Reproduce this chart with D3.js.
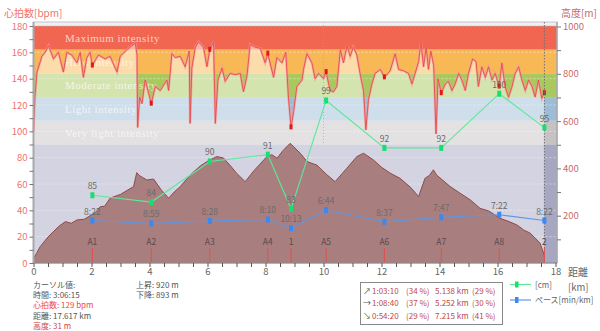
<!DOCTYPE html>
<html><head><meta charset="utf-8">
<script src="https://cdn.jsdelivr.net/npm/d3@7"></script>
<style>
body{margin:0;background:#fff;}
svg{display:block;}
text{font-family:"Noto Sans CJK JP","DejaVu Sans",sans-serif;}
</style></head><body>
<svg id="c" width="600" height="331"></svg>
<script>
// ---------- data ----------
const hrKm  = [0.00,0.05,0.12,0.29,0.40,0.52,0.69,0.86,1.03,1.15,1.32,1.50,1.61,1.72,1.84,1.95,2.03,2.13,2.24,2.47,2.64,2.88,2.99,3.22,3.39,3.51,3.57,3.59,3.66,3.74,3.85,3.97,4.06,4.20,4.37,4.60,4.66,4.77,4.89,5.06,5.23,5.37,5.40,5.46,5.58,5.69,5.86,5.98,6.08,6.21,6.27,6.36,6.50,6.61,6.78,6.96,7.13,7.24,7.36,7.47,7.64,7.82,7.99,8.08,8.28,8.39,8.57,8.70,8.79,8.88,8.97,9.08,9.26,9.31,9.43,9.60,9.71,9.83,10.00,10.09,10.23,10.34,10.46,10.58,10.69,10.81,10.92,11.03,11.15,11.26,11.38,11.46,11.55,11.67,11.78,11.96,12.10,12.30,12.47,12.59,12.76,12.93,13.05,13.16,13.28,13.36,13.45,13.54,13.62,13.70,13.80,13.88,13.95,14.06,14.20,14.31,14.43,14.54,14.66,14.77,14.89,15.00,15.14,15.26,15.34,15.46,15.58,15.69,15.81,15.92,16.06,16.15,16.26,16.38,16.50,16.61,16.73,16.84,16.96,17.07,17.19,17.30,17.41,17.53,17.60,17.617];
const hrBpm = [100,126,145,157,160,165,155,160,145,160,158,152,160,141,156,160,150,154,158,155,157,145,157,162,165,167,158,103,126,121,139,129,121,134,131,139,131,159,156,157,149,161,106,148,164,168,164,149,162,168,106,139,148,138,144,143,144,130,142,166,164,163,152,159,141,156,152,160,126,103,115,134,139,147,159,152,140,144,140,145,131,130,134,162,152,165,157,164,158,144,131,101,124,136,144,147,141,146,159,147,146,144,136,144,153,168,149,164,147,161,150,98,140,129,136,138,131,136,144,139,131,144,155,153,134,149,141,149,139,144,134,152,134,126,134,144,149,139,131,139,134,126,139,125,129,129];

const altKm = [0,0.1,0.23,0.5,0.86,1.1,1.3,1.5,1.75,2.0,2.15,2.3,2.45,2.65,3.0,3.2,3.45,3.56,3.65,3.91,4.14,4.4,4.66,4.85,5.06,5.4,5.75,6.0,6.32,6.55,6.8,7.0,7.3,7.6,8.05,8.22,8.4,8.6,8.85,9.2,9.43,9.77,10.1,10.4,10.8,11.15,11.38,11.72,12.0,12.3,12.64,13.0,13.28,13.5,13.65,13.79,13.9,14.37,14.71,15.06,15.4,15.7,16.09,16.4,16.67,16.9,17.13,17.3,17.47,17.617];
const altM  = [16,40,69,110,154,175,168,182,185,203,215,238,240,275,290,305,323,382,370,351,355,310,274,300,323,372,410,430,450,444,410,380,344,390,450,458,443,475,506,464,429,414,375,344,400,450,464,436,405,380,358,320,281,358,370,394,372,323,295,267,231,220,189,175,161,140,126,105,83,31];

const lapKm     = [2.03,4.06,6.08,8.08,8.88,10.09,12.10,14.06,16.06,17.617];
const lapNames  = ["A1","A2","A3","A4","1","A5","A6","A7","A8","2"];
const cadence   = [85,84,90,91,83,99,92,92,100,95];
const paceText  = ["8:22","8:59","8:28","8:10","10:13","6:44","8:37","7:47","7:22","8:22"];

const zoneLow   = [162,144,126,108,90];
const zoneNames = ["Maximum intensity","Hard intensity","Moderate intensity","Light intensity","Very light intensity"];

const xTicks    = [0,2,4,6,8,10,12,14,16,18];
const hrTicks   = [0,20,40,60,80,100,120,140,160,180];
const altTicks  = [200,400,600,800,1000];

const cursorKm = 17.617;
const infoLeft  = ["カーソル値:","時間: 3:06:15","心拍数: 129 bpm","距離: 17.617 km","高度: 31 m"];
const infoRight = ["上昇: 920 m","下降: 893 m"];
const splitArrow = ["↗","→","↘"];
const splitTime  = ["1:03:10","1:08:40","0:54:20"];
const splitTPct  = ["(34 %)","(37 %)","(29 %)"];
const splitDist  = ["5.138 km","5.252 km","7.215 km"];
const splitDPct  = ["(29 %)","(30 %)","(41 %)"];

// ---------- scales ----------
const L = 33.5, R = 557, T = 22, B = 263;
const x = d3.scaleLinear().domain([0,18]).range([L, 555.5]);
const yHR = d3.scaleLinear().domain([0,180]).range([B, 26]);
const yAlt = d3.scaleLinear().domain([0,1000]).range([B, 26.5]);
const yCad = d3.scaleLinear().domain([75,110]).range([B, 26]);
const ySpd = d3.scaleLinear().domain([0,40]).range([B, 26]);
const paceSec = s => { const p = s.split(":"); return (+p[0])*60 + (+p[1]); };
const speed = paceText.map(s => 3600/paceSec(s));
const hrAt = k => { const i = d3.bisectLeft(hrKm, k); if (i<=0) return hrBpm[0]; if (i>=hrKm.length) return hrBpm[hrBpm.length-1];
  const t = (k-hrKm[i-1])/(hrKm[i]-hrKm[i-1]); return hrBpm[i-1] + t*(hrBpm[i]-hrBpm[i-1]); };

const svg = d3.select("#c");

// background of plot
svg.append("rect").attr("x",L).attr("y",T).attr("width",R-L).attr("height",B-T).attr("fill","#eef0f5").attr("stroke","#c4c4c8");
// zones (saturated)
const zoneCol = ["#f06651","#f8b855","#a9c95c","#9ebcd6","#c6c2c4","#a7a7c2"];
const bounds = [180,162,144,126,108,90,0];
for (let i=0;i<6;i++){
  svg.append("rect").attr("x",L).attr("y",yHR(bounds[i])).attr("width",R-L)
     .attr("height",yHR(bounds[i+1])-yHR(bounds[i])).attr("fill",zoneCol[i]);
}
// HR area light overlay
const hrData = hrKm.map((k,i)=>[k,hrBpm[i]]);
svg.append("path").datum(hrData)
  .attr("d", d3.area().x(d=>x(d[0])).y0(yHR(0)).y1(d=>yHR(d[1])))
  .attr("fill","#fff").attr("opacity",0.5);

// grid
svg.append("g").selectAll("line").data(hrTicks.filter(d=>d>0 && d<180)).join("line")
  .attr("x1",L).attr("x2",R).attr("y1",d=>yHR(d)).attr("y2",d=>yHR(d))
  .attr("stroke","#ffffff").attr("stroke-opacity",0.45).attr("stroke-dasharray","2,2");
svg.append("line").attr("x1",L).attr("x2",R).attr("y1",yHR(180)).attr("y2",yHR(180))
  .attr("stroke","#bbbbc4").attr("stroke-dasharray","2,2");
svg.append("line").attr("x1",x(10)).attr("x2",x(10)).attr("y1",T).attr("y2",yHR(90))
  .attr("stroke","#a0a0a8").attr("stroke-opacity",0.6).attr("stroke-dasharray","1,2");

// zone labels
svg.append("g").selectAll("text").data(zoneNames).join("text")
  .attr("x",65).attr("y",(d,i)=>yHR(zoneLow[i]+9)+4)
  .attr("fill","#ffffff").attr("fill-opacity",0.7)
  .style("font-family","'Liberation Serif','DejaVu Serif',serif").style("font-size","11px").style("letter-spacing","0.5px")
  .text(d=>d);

// HR line
const hrLine = d3.line().x(d=>x(d[0])).y(d=>yHR(d[1]));
svg.append("path").datum(hrData).attr("d",hrLine).attr("fill","none").attr("stroke","#f29a9a").attr("stroke-width",2.4).attr("stroke-opacity",0.7);
svg.append("path").datum(hrData).attr("d",hrLine).attr("fill","none").attr("stroke","#e64c4c").attr("stroke-width",0.9);
// lap markers on HR
svg.append("g").selectAll("rect").data(lapKm).join("rect")
  .attr("x",d=>x(d)-1.5).attr("y",d=>yHR(hrAt(d))-3).attr("width",3).attr("height",5).attr("fill","#e01818");

// altitude
const altData = altKm.map((k,i)=>[k,altM[i]]);
svg.append("path").datum(altData)
  .attr("d", d3.area().x(d=>x(d[0])).y0(yAlt(0)).y1(d=>yAlt(d[1])))
  .attr("fill","#a97e7f");
svg.append("path").datum(altData)
  .attr("d", d3.line().x(d=>x(d[0])).y(d=>yAlt(d[1])))
  .attr("fill","none").attr("stroke","#8e4a4c").attr("stroke-width",1);

// cursor line
svg.append("line").attr("x1",x(cursorKm)).attr("x2",x(cursorKm)).attr("y1",T).attr("y2",B)
  .attr("stroke","#707078").attr("stroke-dasharray","1.5,1.5");

// lap lines & labels
svg.append("g").selectAll("line").data(lapKm).join("line")
  .attr("x1",d=>x(d)).attr("x2",d=>x(d)).attr("y1",248).attr("y2",B).attr("stroke","#e05050");
svg.append("g").selectAll("text").data(lapNames).join("text")
  .attr("x",(d,i)=>x(lapKm[i])).attr("y",245).attr("text-anchor","middle")
  .attr("fill","#5a4a4a").style("font-size","8.5px").text(d=>d);

// cadence series
const cadPts = lapKm.map((k,i)=>[k,cadence[i]]);
svg.append("path").datum(cadPts).attr("d",d3.line().x(d=>x(d[0])).y(d=>yCad(d[1])))
  .attr("fill","none").attr("stroke","#5ee89a").attr("stroke-width",1.1);
svg.append("g").selectAll("rect").data(cadPts).join("rect")
  .attr("x",d=>x(d[0])-2).attr("y",d=>yCad(d[1])-3).attr("width",4).attr("height",6).attr("fill","#14e070");
svg.append("g").selectAll("text").data(cadPts).join("text")
  .attr("x",d=>x(d[0])).attr("y",d=>yCad(d[1])-6).attr("text-anchor","middle")
  .attr("fill","#6a6a6a").style("font-size","8.5px").text(d=>d[1]);

// pace series
const spdPts = lapKm.map((k,i)=>[k,speed[i]]);
svg.append("path").datum(spdPts).attr("d",d3.line().x(d=>x(d[0])).y(d=>ySpd(d[1])))
  .attr("fill","none").attr("stroke","#5c98e6").attr("stroke-width",1.1);
svg.append("g").selectAll("rect").data(spdPts).join("rect")
  .attr("x",d=>x(d[0])-2).attr("y",d=>ySpd(d[1])-3).attr("width",4).attr("height",6).attr("fill","#3a88f0");
svg.append("g").selectAll("text").data(spdPts).join("text")
  .attr("x",d=>x(d[0])).attr("y",d=>ySpd(d[1])-6).attr("text-anchor","middle")
  .attr("fill","#6a6a6a").style("font-size","8.5px").text((d,i)=>paceText[i]);

// axes
const axL = svg.append("g").attr("transform",`translate(${L},0)`)
  .call(d3.axisLeft(yHR).tickValues(d3.range(0,181,10)).tickSize(4).tickFormat(d=>d%20===0?d:""));
axL.select(".domain").attr("stroke","#a8a8ac").attr("stroke-width",2).attr("d",`M0,${T}V${B}`);
axL.selectAll(".tick line").attr("stroke","#777");
axL.selectAll(".tick text").attr("fill","#f07272").style("font-size","9.5px").attr("x",-6);

const axR = svg.append("g").attr("transform",`translate(${R},0)`)
  .call(d3.axisRight(yAlt).tickValues(d3.range(100,1001,100)).tickSize(4).tickFormat(d=>altTicks.includes(d)?d:""));
axR.select(".domain").attr("stroke","#a8a8ac").attr("stroke-width",1.5).attr("d",`M0,${T}V${B}`);
axR.selectAll(".tick line").attr("stroke","#777");
axR.selectAll(".tick text").attr("fill","#c86a6a").style("font-size","9.5px").attr("x",6);

const axB = svg.append("g").attr("transform",`translate(0,${B})`)
  .call(d3.axisBottom(x).tickValues(d3.range(0,18.01,0.5)).tickSize(4).tickFormat(d=>xTicks.includes(d)?d:""));
axB.select(".domain").attr("stroke","#888").attr("d",`M${L},0H${R}`);
axB.selectAll(".tick line").attr("stroke","#555");
axB.selectAll(".tick text").attr("fill","#666").style("font-size","9.5px").attr("y",5);

// axis titles
svg.append("text").attr("x",4).attr("y",17).attr("fill","#f07272").style("font-size","10px").text("心拍数[bpm]");
svg.append("text").attr("x",597).attr("y",17).attr("text-anchor","end").attr("fill","#c86a6a").style("font-size","10px").text("高度[m]");
svg.append("text").attr("x",568).attr("y",276).attr("fill","#666").style("font-size","10px").text("距離");
svg.append("text").attr("x",568).attr("y",291).attr("fill","#666").style("font-size","9.5px").text("[km]");

// info text
const infoCol = ["#555","#555","#f04848","#555","#d04848"];
svg.append("g").selectAll("text").data(infoLeft).join("text")
  .attr("x",33).attr("y",(d,i)=>288+i*10.2).attr("fill",(d,i)=>infoCol[i]).style("font-size","8px").text(d=>d);
svg.append("g").selectAll("text").data(infoRight).join("text")
  .attr("x",136).attr("y",(d,i)=>288+i*10.2).attr("fill","#555").style("font-size","8px").text(d=>d);

// split legend box
svg.append("rect").attr("x",360.5).attr("y",282.5).attr("width",142).attr("height",42).attr("fill","#fff").attr("stroke","#888");
const rowsY = [293.5,306,318.5];
const cols = [[363,splitArrow,"#555"],[372,splitTime,"#c04848"],[406,splitTPct,"#c04848"],[435,splitDist,"#c04848"],[472,splitDPct,"#c04848"]];
cols.forEach(c=>{
  svg.append("g").selectAll("text").data(c[1]).join("text")
    .attr("x",c[0]).attr("y",(d,i)=>rowsY[i]).attr("fill",c[2]).style("font-size","8px").text(d=>d);
});

// series legend
svg.append("line").attr("x1",510).attr("x2",531).attr("y1",284.5).attr("y2",284.5).attr("stroke","#5ee89a").attr("stroke-width",1.2);
svg.append("rect").attr("x",515).attr("y",281.5).attr("width",3.5).attr("height",6).attr("fill","#14e070");
svg.append("text").attr("x",535).attr("y",287.5).attr("fill","#666").style("font-size","8px").text("[cm]");
svg.append("line").attr("x1",510).attr("x2",531).attr("y1",300).attr("y2",300).attr("stroke","#5c98e6").attr("stroke-width",1.2);
svg.append("rect").attr("x",515).attr("y",297).attr("width",3.5).attr("height",6).attr("fill","#3a88f0");
svg.append("text").attr("x",535).attr("y",303).attr("fill","#666").style("font-size","8px").text("ペース[min/km]");
</script></body></html>
